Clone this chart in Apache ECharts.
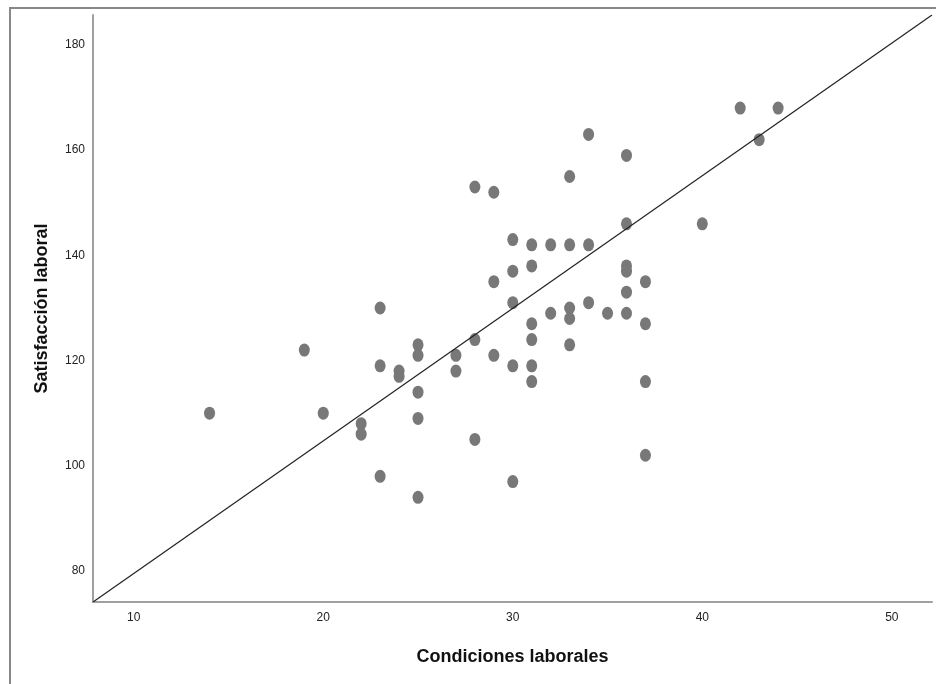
<!DOCTYPE html>
<html>
<head>
<meta charset="utf-8">
<script src="https://cdn.jsdelivr.net/npm/echarts@6/dist/echarts.min.js"></script>
<style>html,body{margin:0;padding:0;background:#fff;}#c{width:936px;height:684px;}</style>
</head>
<body>
<div id="c"></div>
<script>
// Condiciones laborales (x) and Satisfacción laboral (y)
var condiciones = [14,19,20,22,22,23,23,23,24,24,25,25,25,25,25,27,27,28,28,28,29,29,29,30,30,30,30,30,31,31,31,31,31,31,32,32,33,33,33,33,33,34,34,34,35,36,36,36,36,36,36,37,37,37,37,40,42,43,44];
var satisfaccion = [110,122,110,108,106,130,119,98,118,117,123,121,114,109,94,121,118,153,124,105,152,135,121,143,137,131,119,97,142,138,127,124,119,116,142,129,155,142,130,128,123,163,142,131,129,159,146,138,137,133,129,135,127,116,102,146,168,162,168];
var xTicks = [10,20,30,40,50];
var yTicks = [80,100,120,140,160,180];
var xRange = [7.85, 52.12];
var yRange = [74.1, 185.7];
var fitIntercept = 54.3;
var fitSlope = 2.521;

var points = condiciones.map(function(v,i){return [v, satisfaccion[i]];});
var fitLine = xRange.map(function(x){return [x, fitIntercept + fitSlope*x];});

var chart = echarts.init(document.getElementById('c'));
chart.setOption({
  animation:false,
  backgroundColor:'#fff',
  graphic:[{type:'rect',shape:{x:10,y:8,width:960,height:720},style:{fill:'none',stroke:'#888',lineWidth:2},silent:true,z:-1}],
  grid:{left:93,top:15,right:4,bottom:82},
  xAxis:{
    type:'value', min:xRange[0], max:xRange[1],
    name:'Condiciones laborales', nameLocation:'middle', nameGap:46,
    nameTextStyle:{fontFamily:'Liberation Sans, Arial, sans-serif',fontSize:18,fontWeight:'bold',color:'#111'},
    axisLine:{show:true,lineStyle:{color:'#a0a0a0',width:2}},
    axisTick:{show:false}, splitLine:{show:false},
    axisLabel:{fontFamily:'Liberation Sans, Arial, sans-serif',fontSize:12,color:'#222',margin:10,
      customValues:xTicks, formatter:function(v){return String(v);}}
  },
  yAxis:{
    type:'value', min:yRange[0], max:yRange[1],
    name:'Satisfacción laboral', nameLocation:'middle', nameGap:42,
    nameTextStyle:{fontFamily:'Liberation Sans, Arial, sans-serif',fontSize:18,fontWeight:'bold',color:'#111'},
    axisLine:{show:true,lineStyle:{color:'#a0a0a0',width:2}},
    axisTick:{show:false}, splitLine:{show:false},
    axisLabel:{fontFamily:'Liberation Sans, Arial, sans-serif',fontSize:12,color:'#222',margin:8,
      customValues:yTicks, formatter:function(v){return String(v);}}
  },
  series:[
    {type:'line', data:fitLine, symbol:'none', lineStyle:{color:'#222',width:1.2}, z:3, silent:true},
    {type:'scatter', data:points, symbol:'circle', symbolSize:[11,13], itemStyle:{color:'#787878',opacity:1}, z:2}
  ]
});
</script>
</body>
</html>
